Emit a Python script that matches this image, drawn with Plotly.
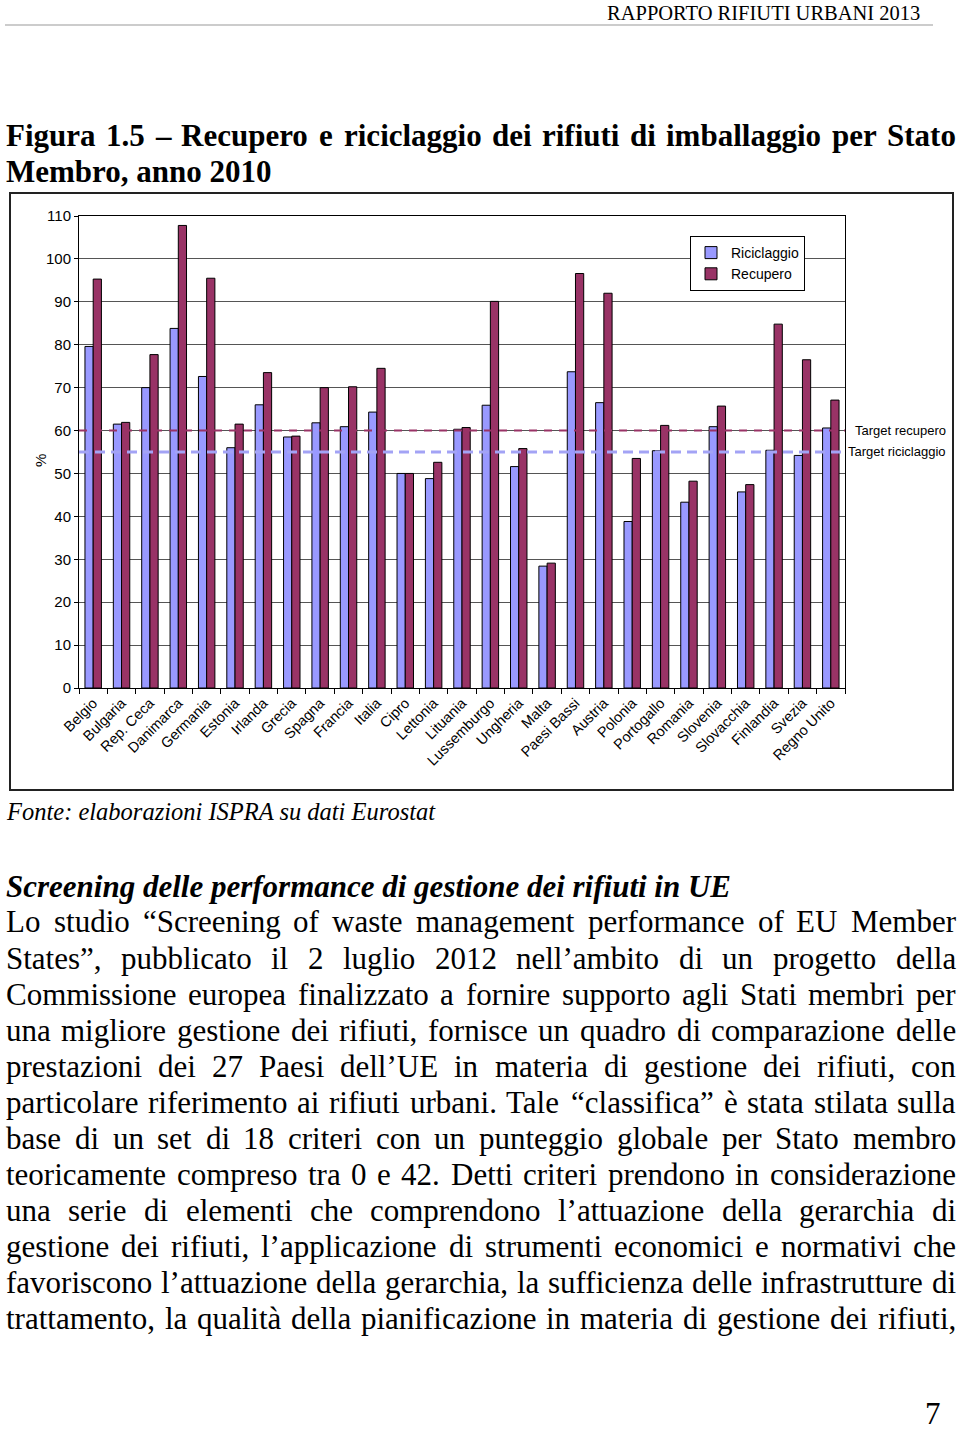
import plotly.graph_objects as go

W, H = 960, 1434

# ---------------- data ----------------
categories = ["Belgio", "Bulgaria", "Rep. Ceca", "Danimarca", "Germania", "Estonia",
              "Irlanda", "Grecia", "Spagna", "Francia", "Italia", "Cipro", "Lettonia",
              "Lituania", "Lussemburgo", "Ungheria", "Malta", "Paesi Bassi", "Austria",
              "Polonia", "Portogallo", "Romania", "Slovenia", "Slovacchia", "Finlandia",
              "Svezia", "Regno Unito"]
riciclaggio = [79.6, 61.5, 70.0, 83.8, 72.6, 56.0, 66.0, 58.5, 61.8, 60.9, 64.3, 50.0,
               48.8, 60.3, 65.9, 51.6, 28.4, 73.7, 66.5, 38.8, 55.3, 43.3, 60.9, 45.7,
               55.4, 54.2, 60.6]
recupero = [95.3, 61.9, 77.7, 107.8, 95.5, 61.5, 73.5, 58.7, 70.0, 70.2, 74.5, 50.0,
            52.6, 60.7, 90.1, 55.8, 29.1, 96.6, 92.0, 53.5, 61.2, 48.2, 65.7, 47.4,
            84.8, 76.5, 67.1]
target_recupero = 60
target_riciclaggio = 55
y_ticks = [0, 10, 20, 30, 40, 50, 60, 70, 80, 90, 100, 110]

header_text = "RAPPORTO RIFIUTI URBANI 2013"
title_line1 = "Figura 1.5 – Recupero e riciclaggio dei rifiuti di imballaggio per Stato"
title_line2 = "Membro, anno 2010"
source_text = "Fonte: elaborazioni ISPRA su dati Eurostat"
heading_text = "Screening delle performance di gestione dei rifiuti in UE"
body_lines = [
    "Lo studio “Screening of waste management performance of EU Member",
    "States”, pubblicato il 2 luglio 2012 nell’ambito di un progetto della",
    "Commissione europea finalizzato a fornire supporto agli Stati membri per",
    "una migliore gestione dei rifiuti, fornisce un quadro di comparazione delle",
    "prestazioni dei 27 Paesi dell’UE in materia di gestione dei rifiuti, con",
    "particolare riferimento ai rifiuti urbani. Tale “classifica” è stata stilata sulla",
    "base di un set di 18 criteri con un punteggio globale per Stato membro",
    "teoricamente compreso tra 0 e 42. Detti criteri prendono in considerazione",
    "una serie di elementi che comprendono l’attuazione della gerarchia di",
    "gestione dei rifiuti, l’applicazione di strumenti economici e normativi che",
    "favoriscono l’attuazione della gerarchia, la sufficienza delle infrastrutture di",
    "trattamento, la qualità della pianificazione in materia di gestione dei rifiuti,",
]
page_number = "7"

# ---------------- helpers ----------------
SERIF = "Liberation Serif, Times New Roman, serif"
SANS = "Liberation Sans, Arial, sans-serif"


def px(x):
    return x / W


def py(y):
    return 1 - y / H


REG = {' ': 250, ',': 250, '.': 250, ':': 278, '-': 333, '’': 333, '“': 444, '”': 444,
       'è': 444, 'à': 444, '–': 500,
       'A': 722, 'B': 667, 'C': 667, 'D': 722, 'E': 611, 'F': 556, 'G': 722, 'H': 722,
       'I': 333, 'J': 389, 'K': 722, 'L': 611, 'M': 889, 'N': 722, 'O': 722, 'P': 556,
       'Q': 722, 'R': 667, 'S': 556, 'T': 611, 'U': 722, 'V': 722, 'W': 944, 'X': 722,
       'Y': 722, 'Z': 611,
       'a': 444, 'b': 500, 'c': 444, 'd': 500, 'e': 444, 'f': 333, 'g': 500, 'h': 500,
       'i': 278, 'j': 278, 'k': 500, 'l': 278, 'm': 778, 'n': 500, 'o': 500, 'p': 500,
       'q': 500, 'r': 333, 's': 389, 't': 278, 'u': 500, 'v': 500, 'w': 722, 'x': 500,
       'y': 500, 'z': 444}
BOLD = {' ': 250, ',': 250, '.': 250, '–': 500,
        'A': 722, 'B': 667, 'C': 722, 'D': 722, 'E': 667, 'F': 611, 'G': 778, 'H': 778,
        'I': 389, 'M': 944, 'N': 722, 'O': 778, 'P': 611, 'R': 722, 'S': 556, 'T': 667,
        'U': 722,
        'a': 500, 'b': 556, 'c': 444, 'd': 556, 'e': 444, 'f': 333, 'g': 500, 'h': 556,
        'i': 278, 'j': 333, 'k': 556, 'l': 278, 'm': 833, 'n': 556, 'o': 500, 'p': 556,
        'q': 556, 'r': 444, 's': 389, 't': 333, 'u': 556, 'v': 500, 'w': 722, 'x': 500,
        'y': 500, 'z': 444}


def text_ann(text, x, y, size, family=SERIF, xanchor="left", yanchor="middle", color="black"):
    return dict(text=text, x=px(x), y=py(y), xref="paper", yref="paper",
                xanchor=xanchor, yanchor=yanchor, showarrow=False, borderpad=0,
                font=dict(family=family, size=size, color=color))


def justify(text, x0, x1, y, size, widths, wrap=("", "")):
    words = text.split()
    ws = [sum(widths.get(c, 500) for c in w) * size / 1000 for w in words]
    gap = (x1 - x0 - sum(ws)) / (len(words) - 1)
    anns = []
    x = x0
    for w, wd in zip(words, ws):
        anns.append(text_ann(wrap[0] + w + wrap[1], x, y, size))
        x += wd + gap
    return anns


# ---------------- figure ----------------
fig = go.Figure()
fig.add_trace(go.Bar(x=categories, y=riciclaggio, name="Riciclaggio",
                     marker=dict(color="#9999FF", line=dict(color="black", width=1))))
fig.add_trace(go.Bar(x=categories, y=recupero, name="Recupero",
                     marker=dict(color="#993366", line=dict(color="black", width=1))))

annotations = []
annotations.append(text_ann(header_text, 921, 13, 20.5, xanchor="right"))
annotations += justify(title_line1, 5, 955, 135, 31, BOLD, ("<b>", "</b>"))
annotations.append(text_ann("<b>" + title_line2 + "</b>", 5, 172, 31))
annotations.append(text_ann("<i>" + source_text + "</i>", 5, 811, 24.5))
annotations.append(text_ann("<b><i>" + heading_text + "</i></b>", 5, 886, 31))
for i, line in enumerate(body_lines):
    annotations += justify(line, 5, 955, 922 + 36 * i, 31, REG)
annotations.append(text_ann(page_number, 942, 1432, 31, xanchor="right", yanchor="bottom"))

# chart side labels
annotations.append(dict(text="%", x=px(30), y=py(452), xref="paper", yref="paper",
                        textangle=-90, showarrow=False,
                        font=dict(family=SANS, size=15, color="black")))
annotations.append(dict(text="Target recupero", x=px(948), y=target_recupero,
                        xref="paper", yref="y", xanchor="right", yanchor="middle",
                        showarrow=False, font=dict(family=SANS, size=13, color="black")))
annotations.append(dict(text="Target riciclaggio", x=px(948), y=target_riciclaggio,
                        xref="paper", yref="y", xanchor="right", yanchor="middle",
                        showarrow=False, font=dict(family=SANS, size=13, color="black")))

shapes = [
    dict(type="line", xref="paper", yref="paper", x0=px(5), x1=px(933), y0=py(25), y1=py(25),
         line=dict(color="#999999", width=1)),
    dict(type="rect", xref="paper", yref="paper", x0=px(10), x1=px(953), y0=py(193), y1=py(790),
         line=dict(color="#222222", width=2), layer="below"),
    dict(type="line", xref="x domain", yref="y", x0=0, x1=1, y0=target_recupero,
         y1=target_recupero, line=dict(color="#993366", width=2, dash="8px,7px"), layer="above"),
    dict(type="line", xref="x domain", yref="y", x0=0, x1=1, y0=target_riciclaggio,
         y1=target_riciclaggio, line=dict(color="#A3A3F5", width=3, dash="10px,6px"), layer="above"),
]

fig.update_layout(
    width=W, height=H,
    margin=dict(l=0, r=0, t=0, b=0, pad=0),
    paper_bgcolor="white", plot_bgcolor="white",
    barmode="group", bargap=0.42, bargroupgap=0,
    showlegend=True,
    legend=dict(x=px(690), y=py(236), xanchor="left", yanchor="top",
                bordercolor="black", borderwidth=1, bgcolor="white",
                font=dict(family=SANS, size=14, color="black"),
                itemwidth=30, tracegroupgap=0),
    annotations=annotations,
    shapes=shapes,
    xaxis=dict(domain=[px(79), px(845)], type="category", automargin=False,
               tickangle=-45, ticks="outside", ticklen=5, tickcolor="black",
               tickson="boundaries", showgrid=False,
               showline=True, linecolor="black", linewidth=1, mirror=True,
               tickfont=dict(family=SANS, size=14.5, color="black")),
    yaxis=dict(domain=[py(688), py(216)], range=[0, 110], tickvals=y_ticks,
               automargin=False, ticks="outside", ticklen=4, tickcolor="black",
               showgrid=True, gridcolor="#555555", gridwidth=1, zeroline=False,
               showline=True, linecolor="black", linewidth=1, mirror=True,
               tickfont=dict(family=SANS, size=15, color="black")),
)

fig.write_html("out.html")
